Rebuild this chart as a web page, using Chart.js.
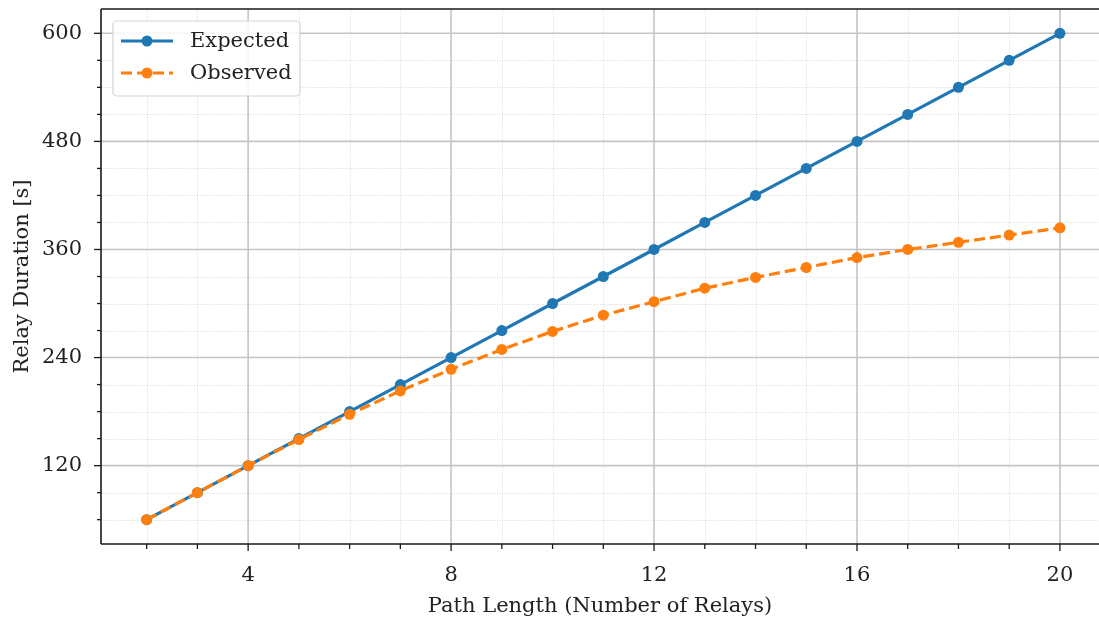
<!DOCTYPE html>
<html>
<head>
<meta charset="utf-8">
<script src="https://cdn.jsdelivr.net/npm/chart.js@4"></script>
<style>
  html, body { margin: 0; padding: 0; background: #fff; }
  #wrap { width: 1099px; height: 622px; }
</style>
</head>
<body>
<div id="wrap"><canvas id="relayChart" width="1099" height="622"></canvas></div>
<script>
// data
const pathLengths = [2, 3, 4, 5, 6, 7, 8, 9, 10, 11, 12, 13, 14, 15, 16, 17, 18, 19, 20];
const expected = [60, 90, 120, 150, 180, 210, 240, 270, 300, 330, 360, 390, 420, 450, 480, 510, 540, 570, 600];
const observed = [60, 90, 120, 149, 177, 203, 227, 249, 269, 287, 302, 317, 329, 340, 351, 360, 368, 376, 384];
const xTickValues = [2, 3, 4, 5, 6, 7, 8, 9, 10, 11, 12, 13, 14, 15, 16, 17, 18, 19, 20];
const xMajorTicks = [4, 8, 12, 16, 20];
const yTickValues = [60, 90, 120, 150, 180, 210, 240, 270, 300, 330, 360, 390, 420, 450, 480, 510, 540, 570, 600];
const yMajorTicks = [120, 240, 360, 480, 600];

const FONT = '"DejaVu Serif", "Liberation Serif", serif';
const FONT_SIZE = 21;
const BLUE = '#1f77b4';
const ORANGE = '#ff7f0e';
const LINE_W = 3.2;
const DASH = [11, 5];

/**
 * Matplotlib-like grid, spines, tick marks and legend
 */
const mplStyle = {
    id: 'mplStyle',
    beforeDatasetsDraw(chart) {
        const { ctx, chartArea: a, scales: { x, y } } = chart;
        ctx.save();
        ctx.beginPath();
        ctx.rect(a.left, a.top, a.right - a.left, a.bottom - a.top);
        ctx.clip();

        // minor grid (dotted)
        ctx.strokeStyle = '#d9d9d9';
        ctx.lineWidth = 0.8;
        ctx.setLineDash([1.2, 1.2]);
        xTickValues.filter(v => !xMajorTicks.includes(v)).forEach(v => {
            const px = Math.round(x.getPixelForValue(v)) + 0.5;
            ctx.beginPath(); ctx.moveTo(px, a.top); ctx.lineTo(px, a.bottom); ctx.stroke();
        });
        yTickValues.filter(v => !yMajorTicks.includes(v)).forEach(v => {
            const py = Math.round(y.getPixelForValue(v)) + 0.5;
            ctx.beginPath(); ctx.moveTo(a.left, py); ctx.lineTo(a.right, py); ctx.stroke();
        });

        // major grid
        ctx.setLineDash([]);
        ctx.strokeStyle = '#c4c4c4';
        ctx.lineWidth = 1.6;
        xMajorTicks.forEach(v => {
            const px = x.getPixelForValue(v);
            ctx.beginPath(); ctx.moveTo(px, a.top); ctx.lineTo(px, a.bottom); ctx.stroke();
        });
        yMajorTicks.forEach(v => {
            const py = y.getPixelForValue(v);
            ctx.beginPath(); ctx.moveTo(a.left, py); ctx.lineTo(a.right, py); ctx.stroke();
        });
        ctx.restore();
    },
    afterDraw(chart) {
        const { ctx, chartArea: a, scales: { x, y } } = chart;
        ctx.save();

        // spines
        ctx.strokeStyle = '#1a1a1a';
        ctx.lineWidth = 1.6;
        ctx.beginPath();
        ctx.moveTo(a.left, a.top); ctx.lineTo(a.right, a.top);
        ctx.moveTo(a.left, a.top); ctx.lineTo(a.left, a.bottom);
        ctx.moveTo(a.left, a.bottom); ctx.lineTo(a.right, a.bottom);
        ctx.stroke();

        // tick marks, outside
        ctx.lineWidth = 1.3;
        xTickValues.forEach(v => {
            const px = x.getPixelForValue(v);
            const len = xMajorTicks.includes(v) ? 7 : 5;
            ctx.beginPath(); ctx.moveTo(px, a.bottom); ctx.lineTo(px, a.bottom + len); ctx.stroke();
        });
        yTickValues.forEach(v => {
            const py = y.getPixelForValue(v);
            const len = yMajorTicks.includes(v) ? 7 : 4;
            ctx.beginPath(); ctx.moveTo(a.left - len, py); ctx.lineTo(a.left, py); ctx.stroke();
        });

        // legend box
        const bx = 113, by = 21, bw = 187, bh = 75, r = 4;
        ctx.beginPath();
        ctx.moveTo(bx + r, by);
        ctx.arcTo(bx + bw, by, bx + bw, by + bh, r);
        ctx.arcTo(bx + bw, by + bh, bx, by + bh, r);
        ctx.arcTo(bx, by + bh, bx, by, r);
        ctx.arcTo(bx, by, bx + bw, by, r);
        ctx.closePath();
        ctx.fillStyle = 'rgba(255,255,255,0.85)';
        ctx.fill();
        ctx.strokeStyle = '#d4d4d4';
        ctx.lineWidth = 1.2;
        ctx.stroke();

        const items = [
            { label: 'Expected', color: BLUE, dash: [], y: 41 },
            { label: 'Observed', color: ORANGE, dash: DASH, y: 73 }
        ];
        items.forEach(it => {
            ctx.strokeStyle = it.color;
            ctx.lineWidth = LINE_W;
            ctx.setLineDash(it.dash);
            ctx.beginPath(); ctx.moveTo(121, it.y); ctx.lineTo(173, it.y); ctx.stroke();
            ctx.setLineDash([]);
            ctx.fillStyle = it.color;
            ctx.beginPath(); ctx.arc(147, it.y, 5.5, 0, Math.PI * 2); ctx.fill();
            ctx.fillStyle = '#222';
            ctx.font = FONT_SIZE + 'px ' + FONT;
            ctx.textBaseline = 'middle';
            ctx.fillText(it.label, 190, it.y + 1);
        });
        ctx.restore();
    }
};

function initRelayChart() {
    const canvas = document.getElementById('relayChart');
    const ctx = canvas.getContext('2d');

    new Chart(ctx, {
        type: 'line',
        data: {
            datasets: [
                {
                    label: 'Expected',
                    data: pathLengths.map((v, i) => ({ x: v, y: expected[i] })),
                    borderColor: BLUE,
                    backgroundColor: BLUE,
                    borderWidth: LINE_W,
                    pointRadius: 5.5,
                    pointBorderWidth: 0,
                    pointBackgroundColor: BLUE,
                    tension: 0,
                    order: 1
                },
                {
                    label: 'Observed',
                    data: pathLengths.map((v, i) => ({ x: v, y: observed[i] })),
                    borderColor: ORANGE,
                    backgroundColor: ORANGE,
                    borderWidth: LINE_W,
                    borderDash: DASH,
                    pointRadius: 5.5,
                    pointBorderWidth: 0,
                    pointBackgroundColor: ORANGE,
                    tension: 0,
                    order: 0
                }
            ]
        },
        options: {
            responsive: false,
            devicePixelRatio: 1,
            animation: false,
            layout: { autoPadding: false, padding: { top: 9, right: 0, left: 0, bottom: 0 } },
            plugins: {
                legend: { display: false },
                tooltip: { enabled: false }
            },
            scales: {
                x: {
                    type: 'linear',
                    min: 1.1,
                    max: 20.77,
                    afterFit: s => {
                        s.height = 78;
                        s.paddingLeft = 0; s.paddingRight = 0;
                    },
                    afterBuildTicks: s => { s.ticks = xTickValues.map(v => ({ value: v })); },
                    grid: { display: false, drawTicks: false },
                    border: { display: false },
                    ticks: {
                        padding: 19,
                        maxRotation: 0,
                        autoSkip: false,
                        color: '#222',
                        font: { family: FONT, size: FONT_SIZE },
                        callback: v => (xMajorTicks.includes(v) ? String(v) : '')
                    },
                    title: {
                        display: true,
                        text: 'Path Length (Number of Relays)',
                        color: '#222',
                        font: { family: FONT, size: FONT_SIZE },
                        padding: { top: 0, bottom: 3 }
                    }
                },
                y: {
                    type: 'linear',
                    min: 33,
                    max: 627,
                    afterFit: s => {
                        s.width = 101;
                        s.paddingTop = 0; s.paddingBottom = 0;
                    },
                    afterBuildTicks: s => { s.ticks = yTickValues.map(v => ({ value: v })); },
                    grid: { display: false, drawTicks: false },
                    border: { display: false },
                    ticks: {
                        padding: 19,
                        autoSkip: false,
                        color: '#222',
                        font: { family: FONT, size: FONT_SIZE },
                        callback: v => (yMajorTicks.includes(v) ? String(v) : '')
                    },
                    title: {
                        display: true,
                        text: 'Relay Duration [s]',
                        color: '#222',
                        font: { family: FONT, size: FONT_SIZE },
                        padding: { top: 10, bottom: 0 }
                    }
                }
            }
        },
        plugins: [mplStyle]
    });
}

document.addEventListener('DOMContentLoaded', initRelayChart);
</script>
</body>
</html>
